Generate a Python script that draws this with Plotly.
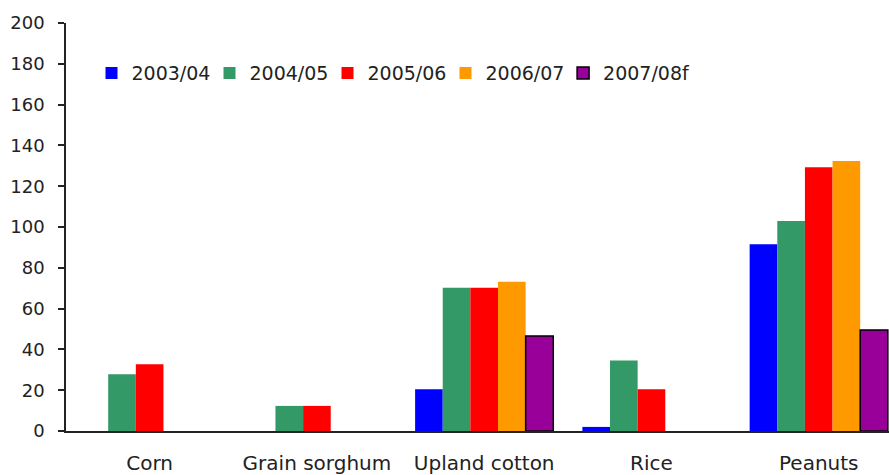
import plotly.graph_objects as go

categories = ["Corn", "Grain sorghum", "Upland cotton", "Rice", "Peanuts"]
series_names = ["2003/04", "2004/05", "2005/06", "2006/07", "2007/08f"]
v_2003 = [None, None, 20.5, 2, 91.5]
v_2004 = [27.8, 12.3, 70.2, 34.6, 102.9]
v_2005 = [32.7, 12.3, 70.2, 20.5, 129.3]
v_2006 = [None, None, 73.2, None, 132.4]
v_2007 = [None, None, 46.6, None, 49.5]
y_ticks = [0, 20, 40, 60, 80, 100, 120, 140, 160, 180, 200]

colors = ["#0000FF", "#339966", "#FF0000", "#FF9900", "#990099"]
all_vals = [v_2003, v_2004, v_2005, v_2006, v_2007]

fig = go.Figure()
for i, (name, vals, col) in enumerate(zip(series_names, all_vals, colors)):
    outline = dict(color="#000000", width=1.5) if name == "2007/08f" else dict(width=0)
    fig.add_trace(go.Bar(name=name, x=categories, y=vals,
                         marker=dict(color=col, line=outline),
                         legend="legend2" if i == 4 else "legend"))

leg_common = dict(orientation="h", xanchor="left", yanchor="middle", y=0.877,
                  font=dict(size=19, color="#222222"), bgcolor="rgba(0,0,0,0)",
                  traceorder="normal")

fig.update_layout(
    width=889, height=475,
    margin=dict(l=66, r=0, t=23, b=44, autoexpand=False),
    paper_bgcolor="white", plot_bgcolor="white",
    barmode="group", bargap=0.174, bargroupgap=0,
    font=dict(family="DejaVu Sans", color="#222222"),
    showlegend=True,
    legend=dict(x=0.031, entrywidth=73, entrywidthmode="pixels", **leg_common),
    legend2=dict(x=0.604, **leg_common),
)
fig.update_xaxes(
    range=[-0.5, 4.42], showline=True, linecolor="#222222", linewidth=1.5,
    ticks="", showgrid=False, tickfont=dict(size=20, color="#222222"),
    ticklabelstandoff=13, automargin=False,
)
fig.update_yaxes(
    range=[0, 200], tickvals=y_ticks, showline=True, linecolor="#222222", linewidth=1.5,
    ticks="outside", ticklen=6, tickwidth=1.5, tickcolor="#222222", showgrid=False,
    zeroline=False, tickfont=dict(size=18, color="#222222"), ticklabelstandoff=10,
    automargin=False,
)

fig.write_html(
    "out.html",
    config={"displayModeBar": False},
    post_script="document.body.style.margin='0';document.body.style.overflow='hidden';",
)
